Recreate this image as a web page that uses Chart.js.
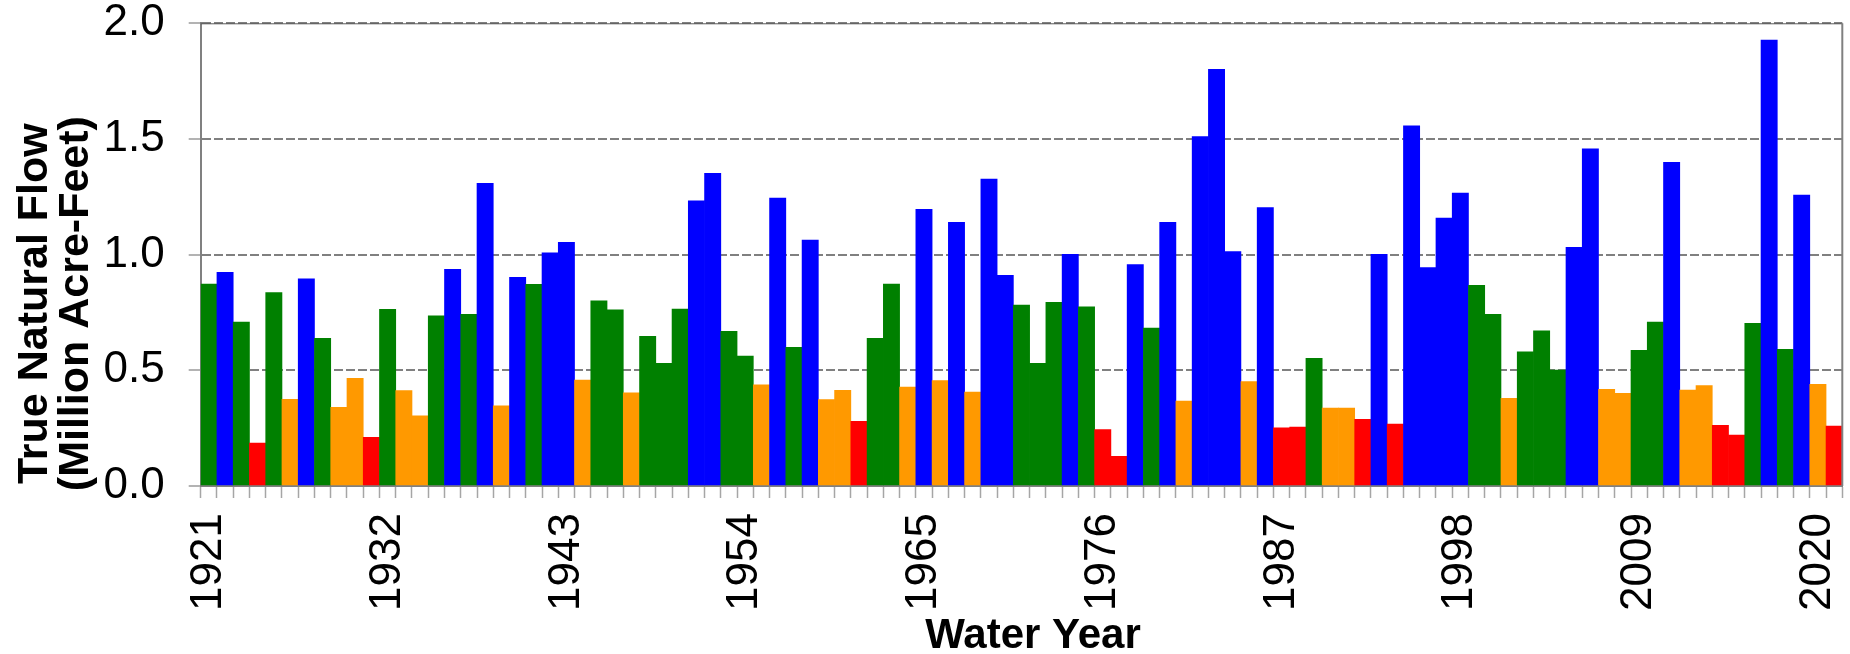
<!DOCTYPE html>
<html>
<head>
<meta charset="utf-8">
<script src="https://cdn.jsdelivr.net/npm/chart.js@4.4.1/dist/chart.umd.min.js"></script>
<style>
  html, body { margin: 0; padding: 0; background: #ffffff; }
  #wrap { width: 1850px; height: 654px; }
</style>
</head>
<body>
<div id="wrap"><canvas id="c" width="1850" height="654"></canvas></div>
<script>
// ---- Data ----
const years = [
  '1921','1922','1923','1924','1925','1926','1927','1928','1929','1930',
  '1931','1932','1933','1934','1935','1936','1937','1938','1939','1940',
  '1941','1942','1943','1944','1945','1946','1947','1948','1949','1950',
  '1951','1952','1953','1954','1955','1956','1957','1958','1959','1960',
  '1961','1962','1963','1964','1965','1966','1967','1968','1969','1970',
  '1971','1972','1973','1974','1975','1976','1977','1978','1979','1980',
  '1981','1982','1983','1984','1985','1986','1987','1988','1989','1990',
  '1991','1992','1993','1994','1995','1996','1997','1998','1999','2000',
  '2001','2002','2003','2004','2005','2006','2007','2008','2009','2010',
  '2011','2012','2013','2014','2015','2016','2017','2018','2019','2020',
  '2021'
];

// True natural flow, million acre-feet
const flow = [
  0.873, 0.924, 0.708, 0.186, 0.836, 0.375, 0.896, 0.638, 0.340, 0.465,
  0.210, 0.764, 0.412, 0.303, 0.736, 0.937, 0.742, 1.308, 0.346, 0.902,
  0.872, 1.008, 1.053, 0.458, 0.800, 0.761, 0.403, 0.647, 0.530, 0.765,
  1.233, 1.352, 0.669, 0.562, 0.437, 1.245, 0.599, 1.063, 0.374, 0.413,
  0.280, 0.638, 0.873, 0.428, 1.196, 0.456, 1.140, 0.406, 1.327, 0.911,
  0.782, 0.530, 0.794, 1.001, 0.774, 0.244, 0.128, 0.957, 0.683, 1.140,
  0.367, 1.510, 1.801, 1.013, 0.451, 1.203, 0.251, 0.255, 0.552, 0.337,
  0.337, 0.288, 1.001, 0.268, 1.557, 0.944, 1.158, 1.266, 0.867, 0.742,
  0.379, 0.580, 0.671, 0.501, 1.032, 1.457, 0.418, 0.401, 0.586, 0.708,
  1.399, 0.415, 0.434, 0.262, 0.220, 0.703, 1.928, 0.591, 1.258, 0.440,
  0.259
];

// Year classification (W = wet, AN = above normal, BN = below normal, C = critical)
const yearType = [
  'AN','W','AN','C','AN','BN','W','AN','BN','BN',
  'C','AN','BN','BN','AN','W','AN','W','BN','W',
  'AN','W','W','BN','AN','AN','BN','AN','AN','AN',
  'W','W','AN','AN','BN','W','AN','W','BN','BN',
  'C','AN','AN','BN','W','BN','W','BN','W','W',
  'AN','AN','AN','W','AN','C','C','W','AN','W',
  'BN','W','W','W','BN','W','C','C','AN','BN',
  'BN','C','W','C','W','W','W','W','AN','AN',
  'BN','AN','AN','AN','W','W','BN','BN','AN','AN',
  'W','BN','BN','C','C','AN','W','AN','W','BN',
  'C'
];

const typeColors = { W: '#0000FF', AN: '#008000', BN: '#FF9900', C: '#FF0000' };

const xTickLabels = ['1921','1932','1943','1954','1965','1976','1987','1998','2009','2020'];
const yTickLabels = ['0.0','0.5','1.0','1.5','2.0'];
const yTitle = ['True Natural Flow', '(Million Acre-Feet)'];
const xTitle = 'Water Year';

const FONT = '"Liberation Sans", Arial, sans-serif';

// ---- Plugins (frame + axis titles) ----
const framePlugin = {
  id: 'frame',
  beforeDatasetsDraw(chart) {
    const { ctx, chartArea: a } = chart;
    ctx.save();
    ctx.strokeStyle = '#5a5a5a';
    ctx.lineWidth = 1;
    ctx.beginPath();
    ctx.moveTo(a.left, a.top + 0.5);
    ctx.lineTo(a.right, a.top + 0.5);
    ctx.stroke();
    ctx.restore();
  },
  afterDraw(chart) {
    const { ctx, chartArea: a } = chart;
    ctx.save();
    ctx.strokeStyle = '#808080';
    ctx.lineWidth = 2;
    ctx.beginPath();
    ctx.moveTo(a.right, a.top);
    ctx.lineTo(a.right, a.bottom);
    ctx.stroke();
    ctx.restore();
  }
};

const titlesPlugin = {
  id: 'titles',
  afterDraw(chart) {
    const { ctx, chartArea: a } = chart;
    ctx.save();
    ctx.fillStyle = '#000000';
    ctx.font = 'bold 43px ' + FONT;
    ctx.textAlign = 'center';
    ctx.textBaseline = 'alphabetic';
    const cy = (a.top + a.bottom) / 2 + 49;
    const xs = [47, 88];
    yTitle.forEach((t, k) => {
      ctx.save();
      ctx.translate(xs[k], cy);
      ctx.rotate(-Math.PI / 2);
      ctx.fillText(t, 0, 0);
      ctx.restore();
    });
    ctx.font = 'bold 42px ' + FONT;
    ctx.fillText(xTitle, (a.left + a.right) / 2 + 11.5, 648);
    ctx.restore();
  }
};

Chart.defaults.font.family = FONT;
Chart.defaults.color = '#000000';

new Chart(document.getElementById('c'), {
  type: 'bar',
  data: {
    labels: years,
    datasets: [{
      data: flow,
      backgroundColor: yearType.map(t => typeColors[t]),
      borderWidth: 0,
      categoryPercentage: 1.0,
      barPercentage: 1.0
    }]
  },
  options: {
    responsive: false,
    animation: false,
    devicePixelRatio: 1,
    layout: { padding: { top: 23.3, right: 7.7, bottom: 0, left: 0 } },
    plugins: { legend: { display: false }, tooltip: { enabled: false } },
    scales: {
      x: {
        grid: {
          offset: true,
          drawOnChartArea: false,
          drawTicks: true,
          tickLength: 12,
          tickColor: '#a6a6a6',
          tickWidth: 1.5
        },
        border: { display: true, color: '#808080', width: 2 },
        ticks: {
          autoSkip: false,
          maxRotation: 90,
          minRotation: 90,
          padding: 15,
          color: '#000000',
          font: { family: FONT, size: 44 },
          callback: function (v, i) {
            const l = years[i];
            return xTickLabels.includes(l) ? l : '';
          }
        },
        afterFit: s => { s.height = 168; s.paddingLeft = 0; s.paddingRight = 0; }
      },
      y: {
        min: 0,
        max: 2,
        ticks: {
          stepSize: 0.5,
          padding: 24,
          color: '#000000',
          font: { family: FONT, size: 44 },
          callback: (v, i) => yTickLabels[i]
        },
        grid: {
          color: c => (c.tick && c.tick.value === 0) ? 'rgba(0,0,0,0)' : '#808080',
          lineWidth: 2,
          drawTicks: true,
          tickLength: 12,
          tickColor: '#b3b3b3',
          tickWidth: 2
        },
        border: { display: true, color: '#808080', width: 2, dash: [9, 3] },
        afterFit: s => { s.width = 200.7; s.paddingTop = 0; s.paddingBottom = 0; }
      }
    }
  },
  plugins: [framePlugin, titlesPlugin]
});
</script>
</body>
</html>
